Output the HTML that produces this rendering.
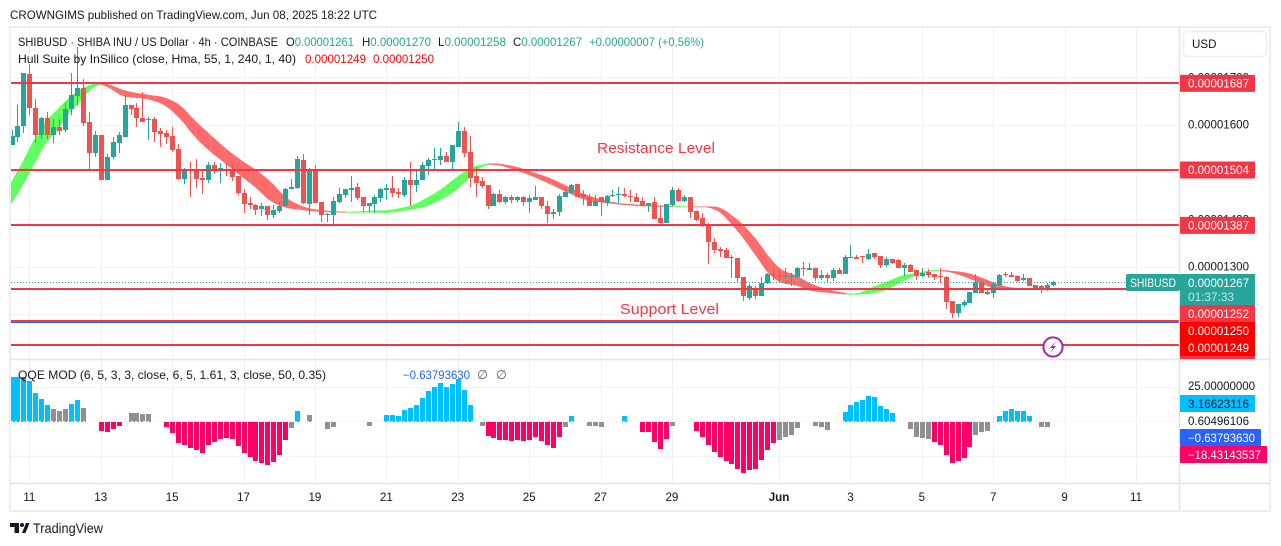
<!DOCTYPE html>
<html lang="en">
<head>
<meta charset="utf-8">
<title>SHIBUSD 4h chart</title>
<style>
html,body{margin:0;padding:0;background:#fff;width:1281px;height:546px;overflow:hidden}
svg{display:block;font-family:"Liberation Sans","DejaVu Sans",sans-serif}
text{font-size:11.6px;fill:#131722}
</style>
</head>
<body>
<svg id="chart" width="1281" height="546" viewBox="0 0 1281 546" xmlns="http://www.w3.org/2000/svg">
  <defs>
    <clipPath id="mainClip"><rect x="11" y="28" width="1168" height="331"/></clipPath>
    <clipPath id="subClip"><rect x="11" y="360" width="1168" height="123"/></clipPath>
  </defs>
  <text x="10" y="19" textLength="367" lengthAdjust="spacingAndGlyphs" style="font-size:12px">CROWNGIMS published on TradingView.com, Jun 08, 2025 18:22 UTC</text>
  <rect x="10" y="27" width="1260" height="484" fill="#fff" stroke="#eceef3" stroke-width="2"/>
  <g id="grid"></g>
  <g id="hull" clip-path="url(#mainClip)"></g>
  <g id="candles" clip-path="url(#mainClip)"></g>
  <g id="qqe" clip-path="url(#subClip)"></g>
  <line id="priceDots" x1="11" x2="1126" stroke="#26a69a" stroke-width="1" stroke-dasharray="1 2"/>
  <g id="levels" clip-path="url(#mainClip)"></g>

  <line x1="10" x2="1270" y1="359.5" y2="359.5" stroke="#e0e3eb" stroke-width="1.5"/>
  <line x1="10" x2="1270" y1="483.5" y2="483.5" stroke="#e0e3eb" stroke-width="1.5"/>
  <line x1="1179.5" x2="1179.5" y1="27" y2="511" stroke="#e0e3eb" stroke-width="1.5"/>

  <g>
    <text x="18" y="46" textLength="260" lengthAdjust="spacingAndGlyphs">SHIBUSD · SHIBA INU / US Dollar · 4h · COINBASE</text>
    <text x="286" y="46" textLength="68" lengthAdjust="spacingAndGlyphs">O<tspan fill="#26a69a">0.00001261</tspan></text>
    <text x="362" y="46" textLength="69" lengthAdjust="spacingAndGlyphs">H<tspan fill="#26a69a">0.00001270</tspan></text>
    <text x="438" y="46" textLength="68" lengthAdjust="spacingAndGlyphs">L<tspan fill="#26a69a">0.00001258</tspan></text>
    <text x="513" y="46" textLength="69" lengthAdjust="spacingAndGlyphs">C<tspan fill="#26a69a">0.00001267</tspan></text>
    <text x="589" y="46" textLength="115" lengthAdjust="spacingAndGlyphs" style="fill:#26a69a">+0.00000007 (+0.56%)</text>
    <text x="18" y="63" textLength="278" lengthAdjust="spacingAndGlyphs">Hull Suite by InSilico (close, Hma, 55, 1, 240, 1, 40)</text>
    <text x="305" y="63" textLength="61" lengthAdjust="spacingAndGlyphs" style="fill:#ff0000">0.00001249</text>
    <text x="373" y="63" textLength="61" lengthAdjust="spacingAndGlyphs" style="fill:#ff0000">0.00001250</text>
  </g>

  <text x="597" y="153" textLength="118" lengthAdjust="spacingAndGlyphs" style="font-size:15px;fill:#f23645">Resistance Level</text>
  <text x="620" y="314" textLength="99" lengthAdjust="spacingAndGlyphs" style="font-size:15px;fill:#f23645">Support Level</text>

  <g>
    <text x="18" y="379" textLength="308" lengthAdjust="spacingAndGlyphs">QQE MOD (6, 5, 3, 3, close, 6, 5, 1.61, 3, close, 50, 0.35)</text>
    <text x="403" y="379" textLength="67" lengthAdjust="spacingAndGlyphs" style="fill:#2962ff">−0.63793630</text>
    <text x="477" y="379" style="fill:#5d606b;font-size:12.5px">∅</text>
    <text x="496" y="379" style="fill:#5d606b;font-size:12.5px">∅</text>
  </g>

  <g>
    <circle cx="1053" cy="347" r="9.6" fill="#fff" stroke="#9c27b0" stroke-width="2"/>
    <polygon points="1056,341 1050,348 1053,348 1050,353 1056,346 1053,346" fill="#9c27b0"/>
  </g>

  <rect x="1183.5" y="31.5" width="83" height="25" rx="4" fill="#fff" stroke="#eceef3" stroke-width="1.5"/>
  <text x="1192" y="48">USD</text>

  <g id="priceAxis"></g>
  <g id="levelTags"></g>
  <g id="timeAxis"></g>

  <g text-anchor="start">
    <rect x="1126" y="274" width="54" height="17" rx="2" fill="#26a69a"/>
    <text x="1130" y="287" textLength="46" lengthAdjust="spacingAndGlyphs" style="fill:#fff">SHIBUSD</text>
    <rect x="1180" y="274" width="75" height="31" fill="#26a69a"/>
    <text x="1188" y="287" textLength="61" lengthAdjust="spacingAndGlyphs" style="fill:#fff">0.00001267</text>
    <text x="1188" y="301" textLength="46" lengthAdjust="spacingAndGlyphs" style="fill:#c4e7e3">01:37:33</text>
    <rect x="1180" y="305" width="75" height="17" fill="#f23645"/>
    <text x="1188" y="318" textLength="61" lengthAdjust="spacingAndGlyphs" style="fill:#fff">0.00001252</text>
    <rect x="1180" y="352" width="75" height="7" fill="#f23645"/>
    <rect x="1180" y="322" width="75" height="34" fill="#ff0000"/>
    <text x="1188" y="335" textLength="61" lengthAdjust="spacingAndGlyphs" style="fill:#fff">0.00001250</text>
    <text x="1188" y="352" textLength="61" lengthAdjust="spacingAndGlyphs" style="fill:#fff">0.00001249</text>

    <text x="1188" y="390" textLength="67" lengthAdjust="spacingAndGlyphs">25.00000000</text>
    <rect x="1180" y="395" width="75" height="17" fill="#00bfff"/>
    <text x="1188" y="408" textLength="61" lengthAdjust="spacingAndGlyphs">3.16623116</text>
    <text x="1188" y="425" textLength="61" lengthAdjust="spacingAndGlyphs">0.60496106</text>
    <rect x="1180" y="429" width="81" height="17" rx="1" fill="#2962ff"/>
    <text x="1188" y="442" textLength="67" lengthAdjust="spacingAndGlyphs" style="fill:#fff">−0.63793630</text>
    <rect x="1180" y="446" width="87" height="17" rx="1" fill="#ff0066"/>
    <text x="1188" y="459" textLength="73" lengthAdjust="spacingAndGlyphs" style="fill:#fff">−18.43143537</text>
  </g>

  <g>
    <path d="M10 523h9v10h-4.5v-6H10zM22 533l4-10h3.5l-4 10z" fill="#131722"/>
    <circle cx="22" cy="525" r="2" fill="#131722"/>
    <text x="33" y="533" textLength="70" lengthAdjust="spacingAndGlyphs" style="font-size:13.5px">TradingView</text>
  </g>
</svg>

<script>
const opens=[1556,1573,1596,1706,1636,1579,1615,1579,1594,1589,
1632,1661,1678,1606,1541,1577,1482,1532,1562,1573,
1642,1636,1615,1611,1611,1587,1583,1575,1549,1486,
1505,1501,1488,1482,1515,1505,1505,1505,1492,1456,
1435,1431,1422,1427,1410,1418,1429,1463,1467,1526,
1433,1507,1437,1408,1410,1437,1452,1461,1469,1446,
1427,1433,1444,1461,1467,1458,1452,1482,1473,1482,
1513,1526,1526,1534,1522,1553,1587,1543,1492,1480,
1473,1429,1454,1437,1448,1441,1448,1437,1441,1448,
1429,1412,1416,1446,1456,1475,1454,1448,1427,1446,
1435,1450,1452,1454,1450,1448,1439,1427,1437,1403,
1393,1431,1461,1439,1448,1418,1403,1389,1353,1338,
1334,1321,1319,1279,1234,1253,1237,1266,1285,1283,
1279,1279,1279,1296,1292,1296,1275,1283,1275,1292,
1285,1319,1321,1323,1317,1329,1323,1304,1315,1313,
1298,1304,1292,1281,1289,1285,1281,1279,1228,1201,
1218,1224,1245,1268,1247,1245,1262,1285,1283,1281,
1272,1275,1262,1260,1253,1261];
const closes=[1575,1598,1708,1636,1577,1613,1579,1594,1587,1634,
1663,1678,1604,1541,1577,1482,1532,1564,1577,1642,
1634,1613,1606,1612,1585,1581,1573,1547,1486,1503,
1503,1486,1482,1515,1501,1509,1503,1490,1456,1433,
1431,1420,1427,1410,1420,1429,1463,1469,1528,1435,
1501,1435,1408,1412,1439,1454,1463,1467,1444,1427,
1435,1446,1463,1467,1456,1454,1482,1473,1484,1515,
1526,1528,1534,1522,1556,1587,1539,1488,1477,1471,
1429,1454,1437,1448,1441,1448,1437,1444,1448,1427,
1412,1416,1450,1458,1473,1448,1448,1427,1439,1437,
1450,1452,1454,1450,1446,1437,1427,1435,1401,1393,
1433,1461,1439,1448,1416,1399,1389,1351,1334,1332,
1319,1319,1275,1237,1258,1237,1266,1285,1283,1281,
1281,1281,1296,1294,1298,1275,1283,1275,1292,1285,
1321,1321,1317,1321,1327,1321,1304,1315,1308,1298,
1304,1289,1281,1287,1283,1279,1279,1226,1201,1220,
1226,1247,1268,1245,1243,1264,1283,1283,1277,1270,
1275,1260,1253,1253,1262,1267];
const highs=[1589,1642,1710,1729,1655,1617,1627,1611,1611,1646,
1710,1765,1697,1627,1587,1577,1537,1573,1585,1663,
1642,1646,1668,1617,1617,1592,1589,1594,1560,1509,
1522,1528,1505,1520,1520,1518,1518,1515,1492,1463,
1448,1433,1435,1429,1431,1437,1465,1486,1534,1537,
1509,1515,1437,1414,1446,1467,1463,1492,1477,1448,
1435,1452,1467,1475,1492,1467,1490,1520,1507,1520,
1530,1551,1551,1543,1556,1606,1594,1575,1511,1490,
1473,1456,1461,1450,1452,1450,1450,1452,1471,1448,
1439,1422,1454,1467,1475,1475,1461,1454,1452,1448,
1452,1461,1469,1467,1461,1456,1446,1435,1448,1427,
1433,1469,1467,1452,1448,1418,1414,1393,1361,1342,
1340,1325,1319,1279,1264,1258,1279,1287,1296,1294,
1296,1287,1300,1310,1308,1296,1292,1287,1296,1298,
1325,1346,1325,1323,1338,1329,1323,1321,1317,1317,
1308,1306,1292,1296,1294,1285,1298,1281,1228,1220,
1230,1247,1285,1270,1251,1268,1285,1289,1289,1283,
1285,1275,1262,1262,1266,1270];
const lows=[1556,1564,1583,1621,1562,1570,1570,1562,1579,1585,
1621,1642,1596,1507,1532,1482,1482,1528,1541,1573,
1621,1594,1606,1568,1564,1553,1560,1543,1484,1475,
1448,1467,1454,1477,1496,1477,1492,1480,1452,1414,
1422,1410,1406,1399,1403,1414,1429,1463,1463,1433,
1410,1435,1395,1395,1389,1435,1444,1437,1441,1416,
1416,1414,1437,1441,1446,1444,1446,1429,1458,1482,
1494,1507,1515,1522,1505,1553,1532,1469,1446,1465,
1422,1427,1435,1433,1435,1437,1429,1414,1441,1422,
1393,1401,1406,1446,1456,1446,1431,1427,1427,1406,
1429,1448,1435,1448,1437,1437,1427,1416,1401,1393,
1393,1427,1437,1437,1403,1397,1384,1306,1329,1321,
1319,1275,1268,1228,1230,1232,1237,1264,1272,1266,
1279,1260,1275,1281,1292,1270,1272,1268,1270,1285,
1285,1319,1315,1308,1313,1317,1296,1300,1306,1298,
1281,1289,1272,1279,1275,1272,1266,1211,1192,1194,
1215,1224,1245,1245,1241,1234,1260,1277,1277,1268,
1270,1258,1253,1245,1249,1258];

const hullBars=[-0.3,1.8,3.6,5.6,7.7,9.7,11.5,13.2,14.9,16.6,18.6,20.6,23,25.8,28.4,30.9,33.4,35.9,38.5,41,43.5,46,48.6,51.6,56.2,60.3,63.7,67.1,69.6,72.1,74.7,77.2,78.9,80.2,82.2,84.8,87.3,90.7,93.2,96.5,100.8,104.1,107.5,111.2,114.5,116.8,118.9,120.9,122.9,125.2,127.3,129.4,131.9,134.4,137,140.3,142.5,144.5,147.1,149.6,152.1,154.3,156.3,158,160.5,163,165.6,168.1,171.5,175];
const hullUpper=[1473,1520,1564,1604,1632,1657,1674,1684,1688,1684,1674,1668,1663,1657,1640,1608,1579,1551,1526,1505,1480,1448,1429,1420,1416,1418,1420,1429,1444,1463,1488,1509,1515,1518,1517,1511,1501,1486,1471,1452,1437,1432,1430,1428,1427,1427,1425,1410,1389,1357,1321,1294,1281,1264,1253,1244,1245,1256,1268,1281,1287,1292,1292.5,1291,1287,1277,1264,1256,1254,1252];
const hullLower=[1427,1469,1511,1556,1589,1623,1649,1672,1684,1676,1661,1657,1653,1640,1611,1573,1543,1518,1492,1467,1439,1425,1420,1416,1414,1414,1414,1420,1427,1441,1461,1490,1509,1515,1513,1503,1492,1473,1458,1441,1433,1429,1427,1426,1425,1425,1416,1391,1361,1321,1285,1266,1260,1249,1245,1241,1241,1243,1251,1268,1281,1289,1290,1287,1277,1264,1253,1253,1252,1250];
const hullTrend=["u","u","u","u","u","u","u","u","u","d","d","d","d","d","d","d","d","d","d","d","d","d","d","d","d","u","u","u","u","u","u","u","u","u","d","d","d","d","d","d","d","d","d","d","u","d","d","d","d","d","d","d","d","d","d","d","u","u","u","u","u","u","u","d","d","d","d","d","d","d"];

const histValues=[32.4,32.4,32.4,29.5,20.8,16.2,11.8,8.9,7.5,8.9,
12.5,15.4,9.6,0,0,-7,-7.8,-5.6,-3.4,0,
6,6,5.3,5.3,0,0,-4.1,-8.5,-15.7,-17.2,
-19.3,-20.8,-23,-17.2,-15,-12.8,-12.1,-12.8,-17.9,-23,
-25.9,-28.8,-30.2,-31.7,-29.5,-24.4,-13.6,-4.9,7.5,0,
4.6,0,0,-5.6,-4.1,0,0,0,0,0,
-3.4,0,0,4.6,4.6,3.8,8.2,9.6,11.8,16.9,
22,24.9,27.8,24.9,27,30.7,22.7,11.8,0,-3.4,
-10.7,-12.1,-13.6,-13.6,-14.3,-13.6,-14.3,-13.6,-11.4,-14.3,
-17.2,-19.3,-11.4,-4.1,3.8,0,0,-3.4,-3.4,-4.1,
0,0,0,3.8,0,0,-7.8,-7.8,-15,-20.1,
-12.8,-3.4,0,0,0,-7,-11.4,-17.2,-22.2,-25.9,
-28.8,-30.9,-34.6,-37.5,-35.3,-34.6,-28,-20.8,-15.7,-13.6,
-11.4,-9.9,-4.9,0,0,-3.4,-4.1,-6.3,0,0,
6.7,11.8,14,15.4,18.3,17.6,11.1,8.9,6,0,
0,-5.6,-11.4,-12.1,-12.8,-15,-17.2,-24.4,-30.2,-28.8,
-26.6,-18.6,-9.9,-7.8,-7,0,3.8,7.5,8.9,7.5,
7.5,3.8,0,-4.1,-4.1,0];
const histStates=("bbbbbbbggg"+"bbg..rrrr."+"gggg..rrrr"+"rrrrrrrrrr"+"rrrrrrrgb."+"g..gg....."+"g..bbbbbbb"+"bbbbbbbb.g"+"rrrrrrrrrr"+"rrrgb..ggg"+"...b..rrrr"+"rg...rrrrr"+"rrrrrrrrrg"+"ggg..ggg.."+"bbbbbbbbb."+".ggggrrrrr"+"rrggg.bbbb"+"bb.gg.").split("");

const priceTicks=[1700,1600,1500,1400,1300,1200];
const qqeTicks=[25,0.6,-25];
const timeTickBars=[3,15,27,39,51,63,75,87,99,111,129,141,153,165,177,189];
const timeTickLabels=["11","13","15","17","19","21","23","25","27","29","Jun","3","5","7","9","11"];
const levelPrices=[1687,1504,1387,1252,1184,1134];
const taggedLevels=[1687,1504,1387];
const blueLinePrice=1181;
const lastPrice=1267;

const NS="http://www.w3.org/2000/svg";
const xOf=i=>11.5+5.95*i;
const py=p=>124.6+(1600-p)*0.4733;
const qy=v=>421.7-v*1.38;
const fmt=p=>(p*1e-8).toFixed(8);
function make(tag,parent,props){
  const el=document.createElementNS(NS,tag);
  for(const k in props)el.setAttribute(k,props[k]);
  parent.appendChild(el);
  return el;
}
const gridG=document.getElementById("grid");
const candleG=document.getElementById("candles");
const hullG=document.getElementById("hull");
const qqeG=document.getElementById("qqe");
const levelG=document.getElementById("levels");
const axisG=document.getElementById("priceAxis");
const tagG=document.getElementById("levelTags");
const timeG=document.getElementById("timeAxis");

timeTickBars.forEach((b,i)=>{
  const x=Math.round(xOf(b))+0.5;
  const line=make("line",gridG,{x1:x,x2:x,y1:28,y2:483,stroke:"#eff1f5","stroke-width":1});
  
  
  const t=make("text",timeG,{x:xOf(b),y:501,"text-anchor":"middle"});
  t.textContent=timeTickLabels[i];
  if(timeTickLabels[i]==="Jun")t.style.fontWeight="bold";
  
  
});
priceTicks.forEach(p=>{
  const y=Math.round(py(p))+0.5;
  const line=make("line",gridG,{x1:11,x2:1179,y1:y,y2:y,stroke:"#f0f3fa","stroke-width":1});
  
  
  const t=make("text",axisG,{x:1188,y:py(p)+4,textLength:61,lengthAdjust:"spacingAndGlyphs"});
  t.textContent=fmt(p);
  
  
});
qqeTicks.forEach(v=>{
  if(v===0.6)return;
  const y=Math.round(qy(v))+0.5;
  const line=make("line",gridG,{x1:11,x2:1179,y1:y,y2:y,stroke:"#f0f3fa","stroke-width":1});
  
  
});

function curve(xs,ys,seg){
  const pts=[];
  const n=xs.length;
  const i0=Math.max(seg-1,0),i1=seg,i2=seg+1,i3=Math.min(seg+2,n-1);
  for(let s=0;s<=8;s++){
    const t=s/8,t2=t*t,t3=t2*t;
    const f=a=>0.5*(2*a[i1]+(a[i2]-a[i0])*t+(2*a[i0]-5*a[i1]+4*a[i2]-a[i3])*t2+(3*a[i1]-a[i0]-3*a[i2]+a[i3])*t3);
    pts.push([f(xs),f(ys)]);
  }
  return pts;
}
const hx=hullBars.map(xOf),huy=hullUpper.map(py),hly=hullLower.map(py);
for(let i=0;i<hullBars.length-1;i++){
  const up=curve(hx,huy,i);
  const lo=curve(hx,hly,i).reverse();
  const pts=up.concat(lo).map(p=>p[0].toFixed(2)+","+p[1].toFixed(2)).join(" ");
  const rising=hullTrend[i+1]==="u";
  const poly=make("polygon",hullG,{points:pts,fill:rising?"#4dff4d":"#ff5a5a","fill-opacity":0.9});
  
  
}

opens.forEach((o,i)=>{
  const c=closes[i],up=c>=o;
  const col=up?"#26a69a":"#ef5350";
  const cx=Math.round(xOf(i));
  const top=Math.round(py(Math.max(o,c)));
  const bot=Math.round(py(Math.min(o,c)));
  const g=make("g",candleG,{"shape-rendering":"crispEdges"});
  
  
  const hy=Math.round(py(highs[i])),ly=Math.round(py(lows[i]));
  const wick=make("rect",g,{x:cx,y:hy,width:1,height:Math.max(ly-hy,1),fill:col});
  
  
  const body=make("rect",g,{x:cx-2,y:top,width:5,height:Math.max(bot-top,1),fill:col});
  
  
});

const stateColors={b:"#00bfff",g:"#909090",r:"#ff0066"};
histValues.forEach((v,i)=>{
  if(histStates[i]==="."||v===0)return;
  const y0=Math.round(qy(0)),y1=Math.round(qy(v));
  const bar=make("rect",qqeG,{x:Math.round(xOf(i))-2,y:Math.min(y0,y1),width:5,height:Math.abs(y1-y0),fill:stateColors[histStates[i]],"shape-rendering":"crispEdges"});
  
  
});
const zeroLine=make("line",qqeG,{x1:11,x2:1179,y1:421.5,y2:421.5,stroke:"#eef0f4","stroke-width":1,"stroke-dasharray":"2 2"});



const dots=document.getElementById("priceDots");
dots.setAttribute("y1",Math.round(py(lastPrice))+0.5);
dots.setAttribute("y2",Math.round(py(lastPrice))+0.5);

const blueY=Math.floor(py(blueLinePrice))+0.5;
const blue=make("line",levelG,{x1:11,x2:1179,y1:blueY,y2:blueY,stroke:"#2962ff","stroke-width":1,"shape-rendering":"crispEdges"});


levelPrices.forEach(p=>{
  const y=Math.floor(py(p));
  const line=make("line",levelG,{x1:11,x2:1179,y1:y,y2:y,stroke:"#f23645","stroke-width":2,"shape-rendering":"crispEdges"});
  
  
});
taggedLevels.forEach(p=>{
  const y=py(p);
  const r=make("rect",tagG,{x:1180,y:y-8.5,width:75,height:17,rx:1,fill:"#f23645"});
  
  
  const t=make("text",tagG,{x:1188,y:y+4,textLength:61,lengthAdjust:"spacingAndGlyphs",style:"fill:#fff"});
  t.textContent=fmt(p);
  
  
});
</script>
</body>
</html>
